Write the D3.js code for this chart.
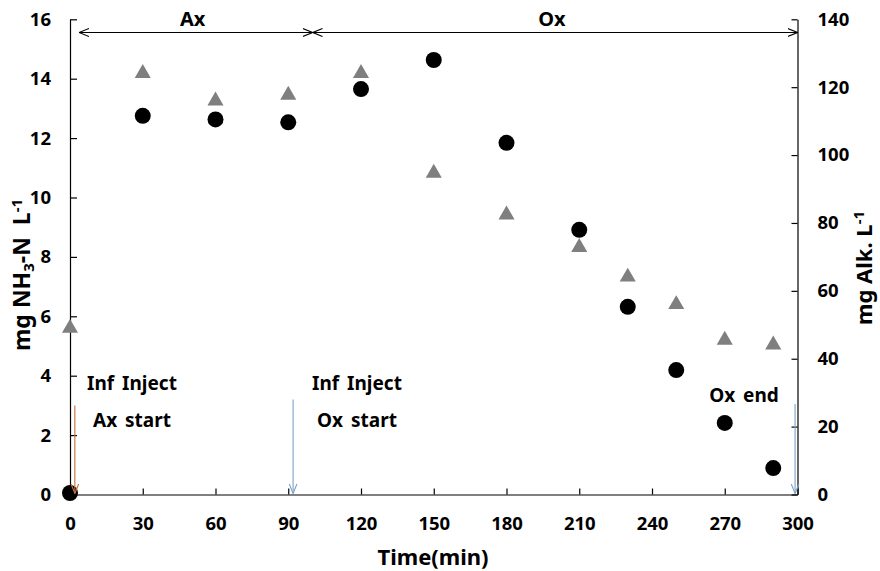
<!DOCTYPE html>
<html>
<head>
<meta charset="utf-8">
<script src="https://cdn.jsdelivr.net/npm/d3@7"></script>
<style>
  body { margin: 0; background: #fff; }
  svg text { font-family: "Noto Sans", "DejaVu Sans", sans-serif; font-weight: bold; fill: #000; }
</style>
</head>
<body>
<svg id="chart" width="880" height="571"></svg>
<script>
// time (min) of each sample
const times = [0, 30, 60, 90, 120, 150, 180, 210, 230, 250, 270, 290];
// NH3-N, mg/L (left axis, circles)
const nh3 = [0.05, 12.75, 12.63, 12.53, 13.65, 14.63, 11.84, 8.91, 6.32, 4.19, 2.41, 0.89];
// alkalinity, mg/L (right axis, triangles)
const alk = [49.0, 124.1, 116.0, 117.7, 124.1, 94.7, 82.4, 72.8, 64.1, 56.0, 45.5, 44.1];

const xTicks = [0, 30, 60, 90, 120, 150, 180, 210, 240, 270, 300];
const leftTicks = [0, 2, 4, 6, 8, 10, 12, 14, 16];
const rightTicks = [0, 20, 40, 60, 80, 100, 120, 140];

// phase spans on top (min)
const phases = [
  { name: 'Ax', from: 3.7, to: 100 },
  { name: 'Ox', from: 100, to: 300 }
];
// event arrows
const events = [
  { t: 2, top: 3.0, color: '#c2703c' },
  { t: 92, top: 3.2, color: '#7ba3c8' },
  { t: 299, top: 3.05, color: '#7ba3c8' }
];

const svg = d3.select('#chart');
const L = 70, R = 797.5, T = 19.3, B = 494.5;

const x = d3.scaleLinear().domain([0, 300]).range([L, R]);
const yL = d3.scaleLinear().domain([0, 16]).range([B, T]);
const yR = d3.scaleLinear().domain([0, 140]).range([B, T]);

function styleAxis(g) {
  g.selectAll('path, line').attr('stroke', '#000').attr('stroke-width', 1.2);
  g.selectAll('text').attr('font-size', 18.5).attr('font-family', '"Noto Sans", sans-serif').attr('font-weight', 'bold');
}

svg.append('g').attr('transform', `translate(0,${B})`)
  .call(d3.axisBottom(x).tickValues(xTicks).tickSizeInner(-6).tickSizeOuter(0).tickPadding(22))
  .call(styleAxis);

svg.append('g').attr('transform', `translate(${L},0)`)
  .call(d3.axisLeft(yL).tickValues(leftTicks).tickSizeInner(-7).tickSizeOuter(0).tickPadding(19))
  .call(styleAxis);

svg.append('g').attr('transform', `translate(${R},0)`)
  .call(d3.axisRight(yR).tickValues(rightTicks).tickSizeInner(-6).tickSizeOuter(0).tickPadding(20))
  .call(styleAxis);

// arrow heads
const defs = svg.append('defs');
function chevron(id, color) {
  defs.append('marker')
    .attr('id', id)
    .attr('viewBox', '0 0 10 10')
    .attr('refX', 10).attr('refY', 5)
    .attr('markerWidth', 10).attr('markerHeight', 10)
    .attr('markerUnits', 'userSpaceOnUse')
    .attr('orient', 'auto-start-reverse')
    .append('path')
    .attr('d', 'M0,1 L10,5 L0,9')
    .attr('fill', 'none')
    .attr('stroke', color)
    .attr('stroke-width', 1.1);
}
chevron('head-black', '#000');
events.forEach((e, i) => chevron('head-' + i, e.color));

// phase spans
const topY = 32.5;
phases.forEach(p => {
  svg.append('line')
    .attr('x1', x(p.from)).attr('x2', x(p.to))
    .attr('y1', topY).attr('y2', topY)
    .attr('stroke', '#000').attr('stroke-width', 1.1)
    .attr('marker-start', 'url(#head-black)')
    .attr('marker-end', 'url(#head-black)');
  svg.append('text')
    .attr('x', (x(p.from) + x(p.to)) / 2 - 3)
    .attr('y', 26)
    .attr('text-anchor', 'middle')
    .attr('font-size', 20)
    .text(p.name);
});

// triangles (alkalinity)
svg.append('g').selectAll('path').data(times).enter().append('path')
  .attr('transform', (d, i) => `translate(${x(d)},${yR(alk[i])})`)
  .attr('d', d3.symbol().type(d3.symbolTriangle).size(112))
  .attr('fill', '#7f7f7f');

// circles (NH3-N)
svg.append('g').selectAll('circle').data(times).enter().append('circle')
  .attr('cx', d => x(d))
  .attr('cy', (d, i) => yL(nh3[i]))
  .attr('r', 8)
  .attr('fill', '#000');

// event arrows
events.forEach((e, i) => {
  svg.append('line')
    .attr('x1', x(e.t)).attr('x2', x(e.t))
    .attr('y1', yL(e.top)).attr('y2', B - 1)
    .attr('stroke', e.color).attr('stroke-width', 1.1)
    .attr('marker-end', `url(#head-${i})`);
});

// event labels
const labels = [
  { x: 132, y: 390, text: 'Inf Inject' },
  { x: 132, y: 427, text: 'Ax start' },
  { x: 357, y: 390, text: 'Inf Inject' },
  { x: 357, y: 427, text: 'Ox start' },
  { x: 744, y: 402, text: 'Ox end' }
];
svg.append('g').selectAll('text').data(labels).enter().append('text')
  .attr('x', d => d.x).attr('y', d => d.y)
  .attr('text-anchor', 'middle')
  .attr('font-size', 19)
  .attr('word-spacing', 3)
  .text(d => d.text);

// axis titles
svg.append('text')
  .attr('x', 433).attr('y', 565)
  .attr('text-anchor', 'middle')
  .attr('font-size', 22)
  .text('Time(min)');

const lt = svg.append('text')
  .attr('transform', 'translate(30,275) rotate(-90)')
  .attr('text-anchor', 'middle')
  .attr('font-size', 23);
lt.append('tspan').text('mg NH');
lt.append('tspan').attr('font-size', 15).attr('baseline-shift', '-25%').text('3');
lt.append('tspan').text('-N\u00a0 L');
lt.append('tspan').attr('font-size', 15).attr('baseline-shift', '55%').text('-1');

const rt = svg.append('text')
  .attr('transform', 'translate(872,268) rotate(-90)')
  .attr('text-anchor', 'middle')
  .attr('font-size', 22);
rt.append('tspan').text('mg Alk. L');
rt.append('tspan').attr('font-size', 15).attr('baseline-shift', '55%').text('-1');
</script>
</body>
</html>
